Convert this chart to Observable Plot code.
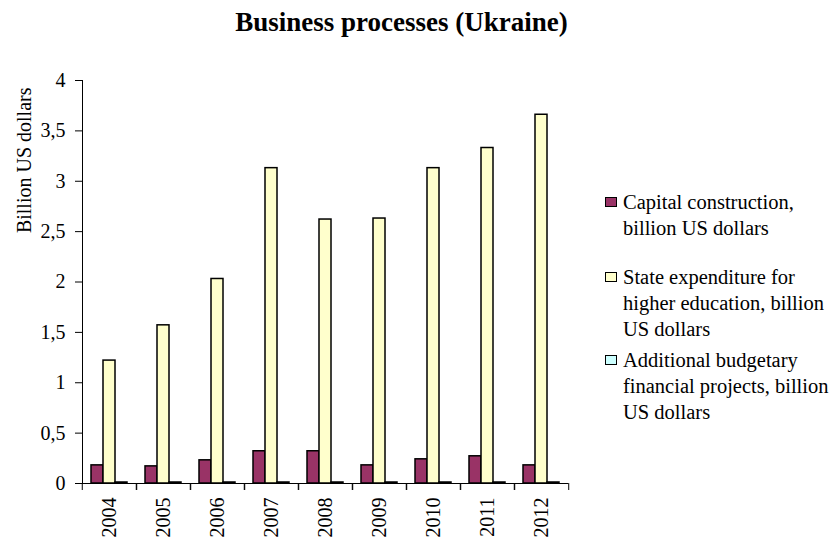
<!DOCTYPE html>
<html><head><meta charset="utf-8">
<script src="https://cdn.jsdelivr.net/npm/d3@7"></script>
<script src="https://cdn.jsdelivr.net/npm/@observablehq/plot@0.6"></script>
<style>
body{margin:0;background:#fff;font-family:"Liberation Serif","Times New Roman",serif;}
#wrap{position:relative;width:837px;height:537px;overflow:hidden;background:#fff;}
#title{position:absolute;left:0;top:7px;width:803px;text-align:center;font-size:27px;font-weight:bold;color:#000;}
#chart{position:absolute;left:0;top:45px;}
#legend{position:absolute;left:605px;top:0;width:232px;}
.item{position:absolute;left:0;display:flex;align-items:flex-start;font-size:20.5px;line-height:26px;color:#000;}
.sw{width:10px;height:8px;border:1px solid #000;margin-top:8px;margin-right:6px;flex:none;}
.lab{width:210px;}
</style></head>
<body>
<div id="wrap">
  <div id="title">Business processes (Ukraine)</div>
  <div id="chart"></div>
  <div id="legend"></div>
</div>
<script>
const years = ["2004","2005","2006","2007","2008","2009","2010","2011","2012"];
const seriesNames = [
  "Capital construction, billion US dollars",
  "State expenditure for higher education, billion US dollars",
  "Additional budgetary financial projects, billion US dollars"
];
const capital    = [0.18, 0.17, 0.23, 0.32, 0.32, 0.18, 0.24, 0.27, 0.18];
const stateEdu   = [1.22, 1.57, 2.03, 3.13, 2.62, 2.63, 3.13, 3.33, 3.66];
const additional = [0.01, 0.01, 0.01, 0.01, 0.01, 0.01, 0.01, 0.01, 0.01];
const colors = ["#993366", "#FFFFCC", "#CCFFFF"];
const yTicks = [0, 0.5, 1, 1.5, 2, 2.5, 3, 3.5, 4];
const yLabel = "Billion US dollars";

const seriesValues = [capital, stateEdu, additional];
const data = years.flatMap((yr, i) => seriesNames.map((s, k) => ({year: yr, series: s, value: seriesValues[k][i]})));

const W = 837, H = 492, ML = 80, MR = 267, MT = 35, MB = 54;
const step = (W - ML - MR) / years.length;
const fmt = d => String(d).replace(".", ",");

const chart = Plot.plot({
  width: W, height: H,
  marginLeft: ML, marginRight: MR, marginTop: MT, marginBottom: MB,
  style: {fontFamily: "'Liberation Serif', 'Times New Roman', serif", fontSize: "20px", background: "white", color: "black", overflow: "visible"},
  fx: {domain: years, padding: 0, label: null, axis: null},
  x: {domain: seriesNames, paddingInner: 0, paddingOuter: 0.73, axis: null},
  y: {domain: [0, 4], label: null, axis: null},
  color: {domain: seriesNames, range: colors},
  marks: [
    Plot.barY(data, {fx: "year", x: "series", y: "value", fill: "series", stroke: "black", strokeWidth: 1.5}),
    Plot.ruleY([0], {stroke: "black", strokeWidth: 1}),
    Plot.frame({anchor: "left", facet: "super", stroke: "black"}),
    Plot.axisY({ticks: yTicks, tickFormat: fmt, tickSize: 7, tickPadding: 10, label: null, fontSize: 20}),
    Plot.axisFx({anchor: "bottom", tickSize: 0, tickPadding: 14, tickRotate: -90, label: null, fontSize: 20}),
    Plot.axisFx({anchor: "bottom", tickSize: 7, tickFormat: () => "", dx: -step / 2, label: null}),
    Plot.axisFx({anchor: "bottom", tickSize: 7, tickFormat: () => "", dx: step / 2, label: null}),
    Plot.text([yLabel], {facet: "super", frameAnchor: "top-left", rotate: -90, textAnchor: "end", dx: -66, dy: 7, fontSize: 20, fill: "black"})
  ]
});
document.getElementById("chart").appendChild(chart);

const tops = [189, 264, 347];
const legend = document.getElementById("legend");
seriesNames.forEach((s, k) => {
  const it = document.createElement("div");
  it.className = "item";
  it.style.top = tops[k] + "px";
  const sw = document.createElement("div");
  sw.className = "sw";
  sw.style.background = colors[k];
  const lab = document.createElement("div");
  lab.className = "lab";
  lab.textContent = s;
  it.appendChild(sw); it.appendChild(lab);
  legend.appendChild(it);
});
</script>
</body></html>
